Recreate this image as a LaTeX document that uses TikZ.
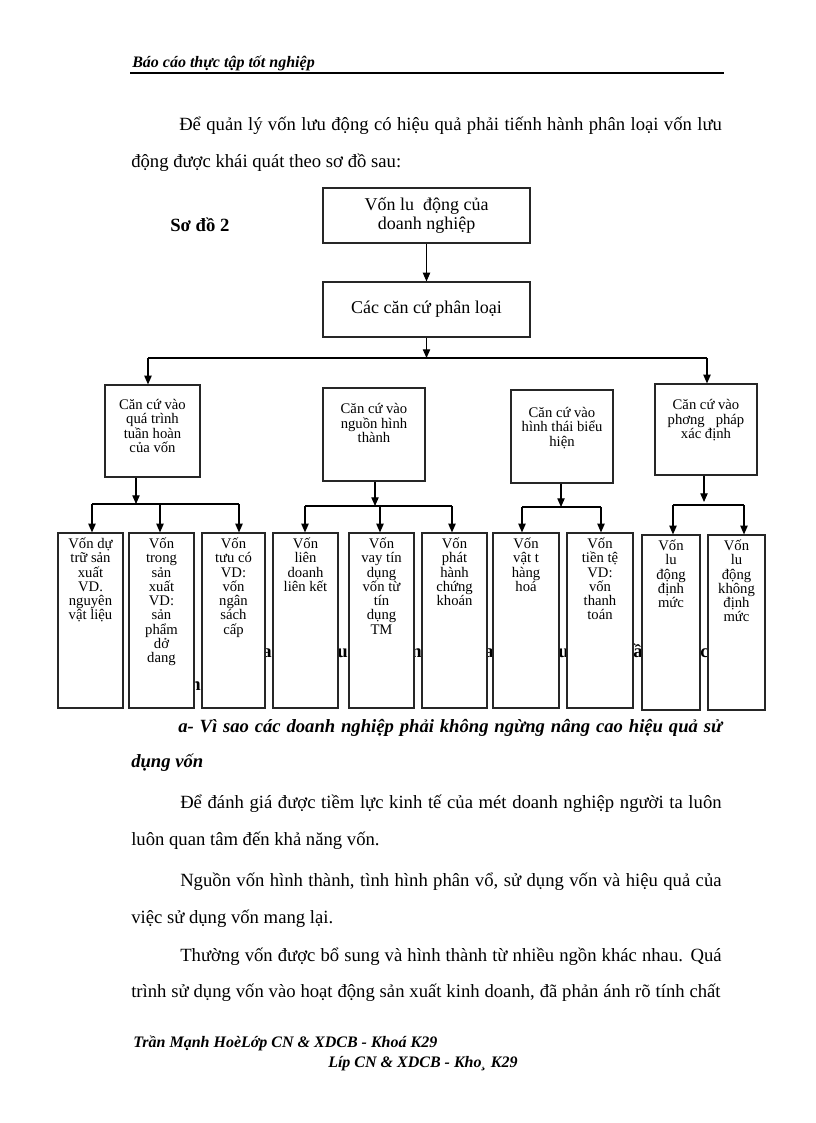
\documentclass[tikz,border=0pt]{standalone}
\usepackage{fontspec}
\setmainfont{Liberation Serif}
\usetikzlibrary{arrows.meta}
\begin{document}
\begin{tikzpicture}[x=0.75pt,y=-0.75pt,
  box/.style={draw=black!85, line width=0.9pt, fill=white, inner sep=0pt},
  arr/.style={-{Triangle[length=6.5pt,width=5.5pt]}, line width=0.8pt},
  ln/.style={line width=0.8pt},
  body/.style={anchor=base west, inner sep=0pt, font=\fontsize{14}{16}\selectfont},
  bhead/.style={anchor=base west, inner sep=0pt, font=\fontsize{14}{16}\selectfont\bfseries\itshape},
  frag/.style={anchor=base west, inner sep=0pt, font=\fontsize{14}{16}\selectfont\bfseries},
  foot/.style={anchor=base west, inner sep=0pt, font=\fontsize{12}{14}\selectfont\bfseries\itshape},
  small/.style={align=center, inner sep=0pt, anchor=north, font=\fontsize{11}{10.7}\selectfont},
  ctext/.style={align=center, inner sep=0pt, anchor=north, font=\fontsize{11}{10.8}\selectfont},
  big/.style={align=center, font=\fontsize{13.5}{14.5}\selectfont}]
\useasboundingbox[fill=white] (0,0) rectangle (816,1123);

% header
\node[anchor=base west, inner sep=0pt, font=\fontsize{12}{14}\selectfont\bfseries\itshape] (hd) at (132,68) {Báo cáo thực tập tốt nghiệp};
\coordinate (hl) at (130,73);
\coordinate (hr) at (724,73);
\draw[line width=0.9pt] (hl) -- (hr);

% paragraph
\node[body] (p1) at (179,131) {\makebox[407pt][s]{Để quản lý vốn lưu  động có hiệu  quả phải  tiếnh hành  phân loại  vốn lưu}};
\node[body] (p2) at (131,168) {động được khái quát theo sơ đồ sau:};
\node[frag] (so) at (170,232) {Sơ đồ 2};

% occluded heading fragments (drawn before the boxes)
\node[frag] (f1) at (262,657) {ac};
\node[frag] (f2) at (337,657) {u};
\node[frag] (f3) at (411,657) {n};
\node[frag] (f4) at (484,657) {a};
\node[frag] (f5) at (558,657) {u};
\node[frag] (f6) at (633,657) {ầ};
\node[frag] (f7) at (700,657) {c:};
\node[frag] (f8) at (190,690) {ng};

% top boxes
\node[box, big, minimum width=207*0.75pt, minimum height=55*0.75pt] (A) at (426.5,215.5) {Vốn lu\ \ động của\\doanh nghiệp};
\node[box, big, minimum width=207*0.75pt, minimum height=55*0.75pt] (B) at (426.5,309.5) {Các căn cứ phân loại};

% criteria boxes
\node[box, minimum width=95*0.75pt, minimum height=92*0.75pt] (C1) at (152.5,431) {};
\node[box, minimum width=102*0.75pt, minimum height=93*0.75pt] (C2) at (374,434.5) {};
\node[box, minimum width=102*0.75pt, minimum height=93*0.75pt] (C3) at (562,436.5) {};
\node[box, minimum width=102*0.75pt, minimum height=91*0.75pt] (C4) at (706,429.5) {};
\node[ctext, below=11pt] (C1t) at (C1.north) {Căn cứ vào\\quá trình\\tuần hoàn\\của vốn};
\node[ctext, below=12pt] (C2t) at (C2.north) {Căn cứ vào\\nguồn  hình\\thành};
\node[ctext, below=13pt] (C3t) at (C3.north) {Căn cứ vào\\hình thái biểu\\hiện};
\node[ctext, below=12pt] (C4t) at (C4.north) {Căn cứ vào\\phơng\ \ \ pháp\\xác định};

% leaf boxes
\node[box, minimum width=65*0.75pt, minimum height=175*0.75pt] (L1) at (90.5,620.5) {};
\node[box, minimum width=65*0.75pt, minimum height=175*0.75pt] (L2) at (161.5,620.5) {};
\node[box, minimum width=63*0.75pt, minimum height=175*0.75pt] (L3) at (233.5,620.5) {};
\node[box, minimum width=65*0.75pt, minimum height=175*0.75pt] (L4) at (305.5,620.5) {};
\node[box, minimum width=65*0.75pt, minimum height=175*0.75pt] (L5) at (381.5,620.5) {};
\node[box, minimum width=65*0.75pt, minimum height=175*0.75pt] (L6) at (454.5,620.5) {};
\node[box, minimum width=66*0.75pt, minimum height=175*0.75pt] (L7) at (526,620.5) {};
\node[box, minimum width=66*0.75pt, minimum height=175*0.75pt] (L8) at (600,620.5) {};
\node[box, minimum width=58*0.75pt, minimum height=175*0.75pt] (L9) at (671,622.5) {};
\node[box, minimum width=57*0.75pt, minimum height=175*0.75pt] (L10) at (736.5,622.5) {};

\node[small, below=4pt] (L1t) at (L1.north) {Vốn dự\\trữ sản\\xuất\\VD.\\nguyên\\vật liệu};
\node[small, below=4pt] (L2t) at (L2.north) {Vốn\\trong\\sản\\xuất\\VD:\\sản\\phẩm\\dở\\dang};
\node[small, below=4pt] (L3t) at (L3.north) {Vốn\\tưu có\\VD:\\vốn\\ngân\\sách\\cấp};
\node[small, below=4pt] (L4t) at (L4.north) {Vốn\\liên\\doanh\\liên kết};
\node[small, below=4pt] (L5t) at (L5.north) {Vốn\\vay tín\\dụng\\vốn từ\\tín\\dụng\\TM};
\node[small, below=4pt] (L6t) at (L6.north) {Vốn\\phát\\hành\\chứng\\khoán};
\node[small, below=4pt] (L7t) at (L7.north) {Vốn\\vật t\\hàng\\hoá};
\node[small, below=4pt] (L8t) at (L8.north) {Vốn\\tiền tệ\\VD:\\vốn\\thanh\\toán};
\node[small, below=4pt] (L9t) at (L9.north) {Vốn\\lu\\động\\định\\mức};
\node[small, below=4pt] (L10t) at (L10.north) {Vốn\\lu\\động\\không\\định\\mức};

% connectors top
\draw[arr] (A) -- (B);
\coordinate (t0) at (426.5,358);
\coordinate (busL) at (148,358);
\coordinate (busR) at (707,358);
\draw[arr] (B) -- (t0);
\draw[ln] (busL) -- (busR);
\draw[arr] (busL) -- (busL |- C1.north);
\draw[arr] (busR) -- (busR |- C4.north);

% group 1
\coordinate (g1) at (136,504);
\coordinate (g1a) at (92,504);
\coordinate (g1b) at (160,504);
\coordinate (g1c) at (239,504);
\draw[arr] (g1 |- C1.south) -- (g1);
\draw[ln] (g1a) -- (g1c);
\draw[arr] (g1a) -- (g1a |- L1.north);
\draw[arr] (g1b) -- (g1b |- L2.north);
\draw[arr] (g1c) -- (g1c |- L3.north);

% group 2
\coordinate (g2) at (375,506);
\coordinate (g2a) at (305,506);
\coordinate (g2b) at (380,506);
\coordinate (g2c) at (452,506);
\draw[arr] (g2 |- C2.south) -- (g2);
\draw[ln] (g2a) -- (g2c);
\draw[arr] (g2a) -- (g2a |- L4.north);
\draw[arr] (g2b) -- (g2b |- L5.north);
\draw[arr] (g2c) -- (g2c |- L6.north);

% group 3
\coordinate (g3) at (561,507);
\coordinate (g3a) at (522,507);
\coordinate (g3c) at (601,507);
\draw[arr] (g3 |- C3.south) -- (g3);
\draw[ln] (g3a) -- (g3c);
\draw[arr] (g3a) -- (g3a |- L7.north);
\draw[arr] (g3c) -- (g3c |- L8.north);

% group 4
\coordinate (g4) at (704,502);
\coordinate (g4a) at (673,505);
\coordinate (g4c) at (744,505);
\draw[arr] (g4 |- C4.south) -- (g4);
\draw[ln] (g4a) -- (g4c);
\draw[arr] (g4a) -- (g4a |- L9.north);
\draw[arr] (g4c) -- (g4c |- L10.north);

% lower text
\node[bhead] (h1) at (178,732) {\makebox[408pt][s]{a- Vì sao các doanh nghiệp phải không ngừng nâng cao hiệu quả sử}};
\node[bhead] (h2) at (131,767) {dụng vốn};
\node[body] (q1) at (180,808) {\makebox[406pt][s]{Để đánh giá được tiềm lực kinh tế của mét doanh nghiệp người ta luôn}};
\node[body] (q2) at (131,845) {luôn quan tâm đến khả năng vốn.};
\node[body] (q3) at (180,886) {\makebox[406pt][s]{Nguồn vốn hình thành, tình hình phân vổ, sử dụng vốn và hiệu quả của}};
\node[body] (q4) at (131,923) {việc sử dụng vốn mang lại.};
\node[body] (q5) at (180,961) {\makebox[406pt][s]{Thường vốn được bổ sung và hình thành từ nhiều ngồn khác nhau. Quá}};
\node[body] (q6) at (131,997) {\makebox[442pt][s]{trình sử dụng vốn vào hoạt động sản xuất kinh doanh, đã phản ánh rõ tính chất}};

% footer
\node[foot] (ft1) at (133,1047) {Trần Mạnh HoèLớp CN \& XDCB - Khoá K29};
\node[foot] (ft2) at (328,1067) {Líp CN \& XDCB - Kho¸ K29};
\end{tikzpicture}
\end{document}
